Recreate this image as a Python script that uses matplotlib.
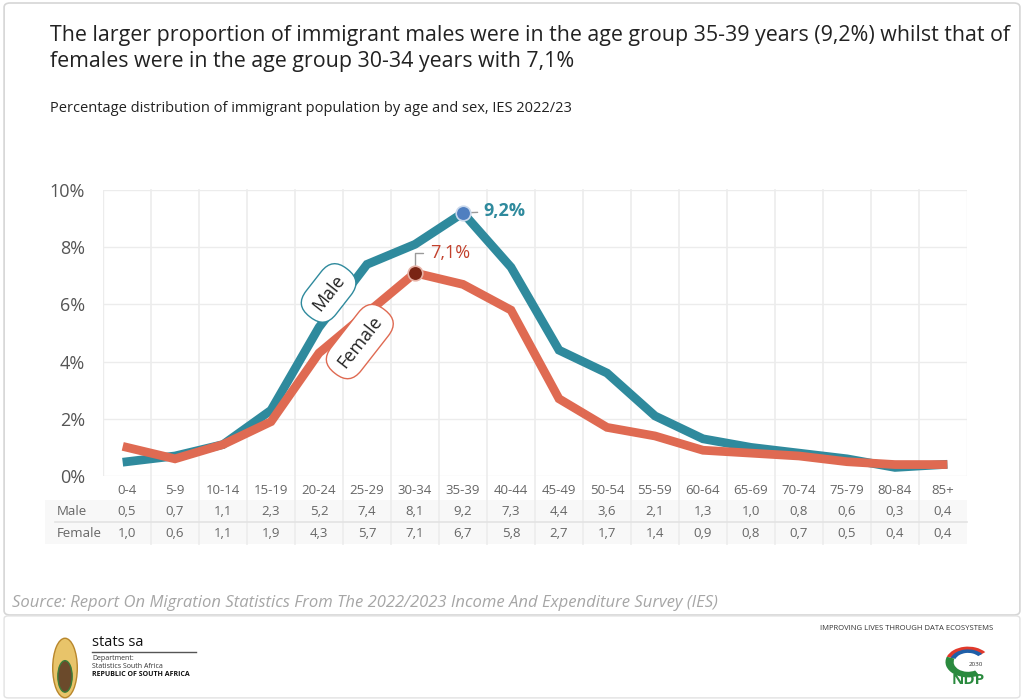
import matplotlib.pyplot as plt
from matplotlib.patches import FancyBboxPatch, Ellipse, Wedge
from matplotlib.transforms import blended_transform_factory

plt.rcParams['font.family'] = ['Open Sans', 'DejaVu Sans']

age_groups = ['0-4', '5-9', '10-14', '15-19', '20-24', '25-29', '30-34', '35-39', '40-44',
              '45-49', '50-54', '55-59', '60-64', '65-69', '70-74', '75-79', '80-84', '85+']
male = [0.5, 0.7, 1.1, 2.3, 5.2, 7.4, 8.1, 9.2, 7.3, 4.4, 3.6, 2.1, 1.3, 1.0, 0.8, 0.6, 0.3, 0.4]
female = [1.0, 0.6, 1.1, 1.9, 4.3, 5.7, 7.1, 6.7, 5.8, 2.7, 1.7, 1.4, 0.9, 0.8, 0.7, 0.5, 0.4, 0.4]
yticks = [0, 2, 4, 6, 8, 10]

male_color = '#2f8a9d'
female_color = '#df6a52'
grid_color = '#ececec'
text_gray = '#666666'

fig = plt.figure(figsize=(10.24, 7), dpi=100)
fig.patch.set_facecolor('white')

# frames
fig.patches.append(FancyBboxPatch((0.004, 1 - 615 / 700), 0.992, (615 - 3) / 700,
                                  boxstyle='round,pad=0,rounding_size=0.006', transform=fig.transFigure,
                                  fc='none', ec='#d6d6d6', lw=1.2, zorder=-1))
fig.patches.append(FancyBboxPatch((0.004, 0.003), 0.992, (697 - 615) / 700,
                                  boxstyle='round,pad=0,rounding_size=0.004', transform=fig.transFigure,
                                  fc='none', ec='#e2e2e2', lw=1.0, zorder=-1))

fig.text(50 / 1024, 1 - 35 / 700,
         'The larger proportion of immigrant males were in the age group 35-39 years (9,2%) whilst that of',
         fontsize=15.4, color='#222222', va='center')
fig.text(50 / 1024, 1 - 62 / 700,
         'females were in the age group 30-34 years with 7,1%',
         fontsize=15.4, color='#222222', va='center')
fig.text(50 / 1024, 1 - 108 / 700,
         'Percentage distribution of immigrant population by age and sex, IES 2022/23',
         fontsize=10.5, color='#222222', va='center')

ax = fig.add_axes([103 / 1024, 1 - 476 / 700, 864 / 1024, 286 / 700])
ax.patch.set_alpha(0)
x = list(range(len(age_groups)))
ax.set_xlim(-0.5, len(age_groups) - 0.5)
ax.set_ylim(0, 10)
for s in ax.spines.values():
    s.set_visible(False)
ax.set_xticks([])
ax.set_yticks(yticks, [f'{t}%' for t in yticks])
ax.tick_params(axis='y', length=0, pad=13, labelsize=13, labelcolor='#555555')

for t in yticks:
    ax.axhline(t, color=grid_color, lw=1, zorder=0)
ax.axvline(-0.5, color=grid_color, lw=1, zorder=0)
for i in range(len(age_groups) - 1):
    ax.axvline(i + 0.5, ymin=-0.238, ymax=1, color=grid_color, lw=1.2, zorder=0, clip_on=False)
ax.axvline(len(age_groups) - 0.5, color=grid_color, lw=1, zorder=0)

ax.plot(x, male, color=male_color, lw=6.3, solid_joinstyle='miter', zorder=3)
ax.plot(x, female, color=female_color, lw=6.3, solid_joinstyle='miter', zorder=3)

# highlighted points
im = male.index(max(male))
jf = female.index(max(female))
ax.scatter([im], [male[im]], s=110, color='#4f7fc0', edgecolor='#c9d8ec', lw=1.2, zorder=5)
ax.scatter([jf], [female[jf]], s=110, color='#7a2514', edgecolor='#e7b2a6', lw=1.2, zorder=5)
ax.annotate(f'{male[im]:.1f}%'.replace('.', ','), xy=(im, male[im]), xytext=(im + 0.42, male[im] + 0.05),
            fontsize=13, fontweight='bold', color=male_color, va='center',
            arrowprops=dict(arrowstyle='-', color='#9a9a9a', lw=1, shrinkA=2, shrinkB=6))
ax.annotate(f'{female[jf]:.1f}%'.replace('.', ','), xy=(jf, female[jf]), xytext=(jf + 0.32, female[jf] + 0.7),
            fontsize=13, color='#c2402c', va='center',
            arrowprops=dict(arrowstyle='-', color='#9a9a9a', lw=1, shrinkA=3, shrinkB=6,
                            connectionstyle='angle,angleA=0,angleB=90,rad=0'))

# series labels
ax.text(4.2, 6.4, 'Male', rotation=52, ha='center', va='center', fontsize=13, color='#222222', zorder=6,
        rotation_mode='anchor',
        bbox=dict(boxstyle='round,pad=0.55,rounding_size=1.0', fc='white', ec=male_color, lw=1))
ax.text(4.85, 4.7, 'Female', rotation=52, ha='center', va='center', fontsize=13, color='#222222', zorder=6,
        rotation_mode='anchor',
        bbox=dict(boxstyle='round,pad=0.55,rounding_size=1.0', fc='white', ec=female_color, lw=1))

# data table under the chart
tr = blended_transform_factory(ax.transData, ax.transAxes)
tra = ax.transAxes
ax.add_patch(plt.Rectangle((-0.067, -0.238), 1.067, 0.154, transform=tra, fc='#f8f8f8', ec='none',
                           zorder=-1, clip_on=False))
ax.plot([-0.055, 1.0], [-0.161, -0.161], transform=tra, color='#e3e3e3', lw=1.2, clip_on=False, zorder=1)
for i, g in enumerate(age_groups):
    ax.text(i, -0.049, g, transform=tr, ha='center', va='center', fontsize=9.5, color=text_gray)
    ax.text(i, -0.125, f'{male[i]:.1f}'.replace('.', ','), transform=tr, ha='center', va='center',
            fontsize=9.5, color=text_gray)
    ax.text(i, -0.2, f'{female[i]:.1f}'.replace('.', ','), transform=tr, ha='center', va='center',
            fontsize=9.5, color=text_gray)
ax.text(-0.053, -0.125, 'Male', transform=tra, ha='left', va='center', fontsize=9.5, color=text_gray)
ax.text(-0.053, -0.2, 'Female', transform=tra, ha='left', va='center', fontsize=9.5, color=text_gray)

fig.text(12 / 1024, 1 - 603 / 700,
         'Source: Report On Migration Statistics From The 2022/2023 Income And Expenditure Survey (IES)',
         fontsize=12, style='italic', color='#a6a6a6', va='center')

# footer: stats sa logo
lx, ly = 65 / 1024, 1 - 668 / 700
fig.patches.append(Ellipse((lx, ly), 0.024, 0.085, transform=fig.transFigure, fc='#e8c46a', ec='#b8862b', lw=1))
fig.patches.append(Ellipse((lx, ly - 0.012), 0.014, 0.045, transform=fig.transFigure, fc='#6b4a2b', ec='#3b7d3a', lw=1))
fig.text(92 / 1024, 1 - 642 / 700, 'stats sa', fontsize=10.5, color='#111111', va='center')
fig.lines.append(plt.Line2D([92 / 1024, 196 / 1024], [1 - 652 / 700] * 2, transform=fig.transFigure,
                            color='#555555', lw=1))
fig.text(92 / 1024, 1 - 659 / 700, 'Department:', fontsize=5, color='#333333', va='center')
fig.text(92 / 1024, 1 - 667 / 700, 'Statistics South Africa', fontsize=5, color='#333333', va='center')
fig.text(92 / 1024, 1 - 675 / 700, 'REPUBLIC OF SOUTH AFRICA', fontsize=5, fontweight='bold', color='#111111',
         va='center')

# footer: NDP logo
fig.text(993 / 1024, 1 - 628 / 700, 'IMPROVING LIVES THROUGH DATA ECOSYSTEMS', fontsize=5.5, color='#333333',
         ha='right', va='center')
nx, ny = 968 / 1024, 1 - 662 / 700
fig.patches.append(Wedge((nx, ny), 0.022, 40, 160, width=0.006, transform=fig.transFigure, fc='#e1392b'))
fig.patches.append(Wedge((nx, ny), 0.018, 40, 160, width=0.005, transform=fig.transFigure, fc='#1f5fa8'))
fig.patches.append(Wedge((nx, ny), 0.022, 160, 300, width=0.008, transform=fig.transFigure, fc='#2a8a3e'))
fig.text(nx, 1 - 680 / 700, 'NDP', fontsize=11, fontweight='bold', color='#2a8a3e', ha='center', va='center')
fig.text(nx + 0.008, 1 - 664 / 700, '2030', fontsize=4.5, color='#333333', ha='center', va='center')

fig.savefig('out.png', dpi=100)
